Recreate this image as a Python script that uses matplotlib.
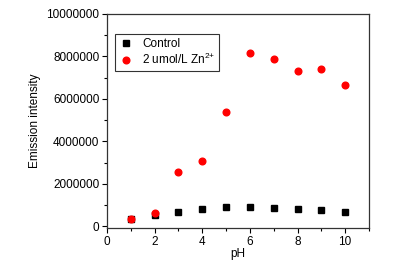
import matplotlib
matplotlib.use("Agg")
import matplotlib.pyplot as plt
from matplotlib.ticker import MultipleLocator

plt.rcParams['font.family'] = ['Liberation Sans', 'DejaVu Sans']
plt.rcParams['mathtext.fontset'] = 'custom'
plt.rcParams['mathtext.rm'] = 'Liberation Sans'
plt.rcParams['mathtext.default'] = 'regular'

ph = [1, 2, 3, 4, 5, 6, 7, 8, 9, 10]
control = [330000, 520000, 670000, 830000, 900000, 900000, 860000, 830000, 770000, 690000]
zinc = [330000, 630000, 2580000, 3080000, 5390000, 8170000, 7860000, 7330000, 7400000, 6640000]

fig = plt.figure(figsize=(3.95, 2.74), dpi=100)
ax = fig.add_axes([0.271, 0.168, 0.663, 0.781])

ax.plot(ph, control, 's', color='black', markersize=4.2, linestyle='none', label='Control')
ax.plot(ph, zinc, 'o', color='#ff0000', markersize=4.8, linestyle='none',
        label='2 umol/L Zn$^{2{+}}$')

ax.set_xlim(0, 11)
ax.set_ylim(-70000, 10000000)
ax.xaxis.set_major_locator(MultipleLocator(2))
ax.xaxis.set_minor_locator(MultipleLocator(1))
ax.yaxis.set_major_locator(MultipleLocator(2000000))
ax.yaxis.set_minor_locator(MultipleLocator(1000000))
ax.ticklabel_format(axis='y', style='plain', useOffset=False)

ax.tick_params(axis='both', which='major', direction='out', length=3.5, width=0.8,
               labelsize=8.5, top=False, right=False, pad=2)
ax.tick_params(axis='both', which='minor', direction='out', length=2, width=0.8,
               top=False, right=False)
for s in ax.spines.values():
    s.set_linewidth(0.9)
    s.set_color('#333333')

ax.set_xlabel('pH', fontsize=8.5, labelpad=0)
ax.set_ylabel('Emission intensity', fontsize=8.5, labelpad=4)

leg = ax.legend(loc='upper left', bbox_to_anchor=(0.03, 0.905), fontsize=8.5,
                frameon=True, fancybox=False, edgecolor='black', handletextpad=0.7,
                borderpad=0.3, labelspacing=0.2, handlelength=1.3, borderaxespad=0)
leg.get_frame().set_linewidth(0.8)

fig.savefig('out.png', dpi=100)
